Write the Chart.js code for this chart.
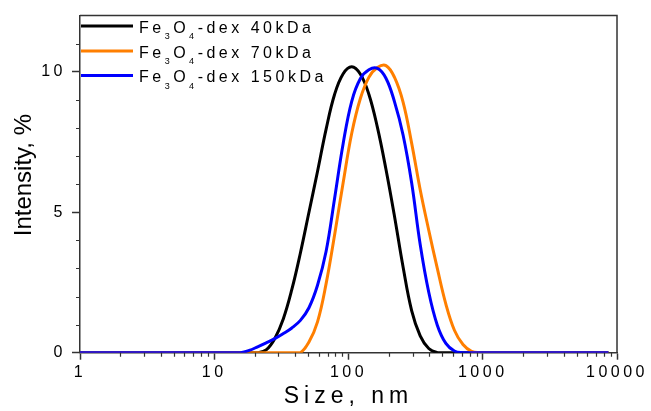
<!DOCTYPE html>
<html>
<head>
<meta charset="utf-8">
<script src="https://cdn.jsdelivr.net/npm/chart.js@4.4.1/dist/chart.umd.min.js"></script>
<style>
  html, body { margin: 0; padding: 0; background: #fff; }
</style>
</head>
<body>
<canvas id="size-chart" width="651" height="411"></canvas>
<script>
// DLS size bins (nm)
var sizes = [0.4, 0.4632, 0.5365, 0.6213, 0.7195, 0.8332, 0.9649, 1.117, 1.294, 1.499,
  1.736, 2.01, 2.328, 2.696, 3.122, 3.615, 4.187, 4.849, 5.615, 6.503,
  7.531, 8.721, 10.1, 11.7, 13.54, 15.69, 18.17, 21.04, 24.36, 28.21,
  32.67, 37.84, 43.82, 50.75, 58.77, 68.06, 78.82, 91.28, 105.7, 122.4,
  141.8, 164.2, 190.1, 220.2, 255, 295.3, 342, 396.1, 458.7, 531.2,
  615.1, 712.4, 825, 955.4, 1106, 1281, 1484, 1718, 1990, 2305,
  2669, 3091, 3580, 4145, 4801, 5560, 6439, 7456, 8635];

// intensity, %
var dex40 = [0, 0, 0, 0, 0, 0, 0, 0, 0, 0,
  0, 0, 0, 0, 0, 0, 0, 0, 0, 0,
  0, 0, 0, 0, 0, 0, 0, 0, 0.1, 0.5,
  1.2, 2.25, 3.55, 5.0, 6.45, 7.95, 9.2, 9.93, 10.18, 9.92,
  9.2, 8.02, 6.53, 4.85, 3.05, 1.5, 0.6, 0.15, 0.01, 0,
  0, 0, 0, 0, 0, 0, 0, 0, 0, 0,
  0, 0, 0, 0, 0, 0, 0, 0, 0];
var dex70 = [0, 0, 0, 0, 0, 0, 0, 0, 0, 0,
  0, 0, 0, 0, 0, 0, 0, 0, 0, 0,
  0, 0, 0, 0, 0, 0, 0, 0, 0, 0,
  0, 0, 0, 0.38, 1.1, 2.45, 4.2, 6.06, 7.81, 9.04,
  9.8, 10.15, 10.22, 9.8, 8.92, 7.46, 5.8, 4.36, 3.0, 1.73,
  0.8, 0.29, 0.05, 0, 0, 0, 0, 0, 0, 0,
  0, 0, 0, 0, 0, 0, 0, 0, 0];
var dex150 = [0, 0, 0, 0, 0, 0, 0, 0, 0, 0,
  0, 0, 0, 0, 0, 0, 0, 0, 0, 0,
  0, 0, 0, 0, 0, 0, 0.08, 0.21, 0.35, 0.5,
  0.68, 0.88, 1.15, 1.6, 2.4, 3.6, 5.5, 7.45, 8.95, 9.75,
  10.07, 10.12, 9.77, 8.93, 7.75, 6.05, 3.85, 2.15, 0.98, 0.33,
  0.06, 0, 0, 0, 0, 0, 0, 0, 0, 0,
  0, 0, 0, 0, 0, 0, 0, 0, 0];

var seriesNames = ["Fe₃O₄-dex 40kDa", "Fe₃O₄-dex 70kDa", "Fe₃O₄-dex 150kDa"];
var seriesColors = ["#000000", "#ff7f00", "#0000ff"];

var xLabels = [1, 10, 100, 1000, 10000];
var yLabels = [0, 5, 10];

var FONT = "'Liberation Sans', Arial, sans-serif";
var AXIS = "#333333";

function points(vals) {
  var pts = [];
  for (let i = 0; i < sizes.length; i++) {
    pts.push({ x: sizes[i], y: vals[i] });
  }
  return pts;
}

function isDecade(v) {
  return xLabels.indexOf(Math.round(v)) >= 0 && Math.abs(v - Math.round(v)) < 1e-6;
}

var xTicks = [];
for (let e = 0; e < 4; e++) {
  for (let m = 1; m < 10; m++) xTicks.push(m * Math.pow(10, e));
}
xTicks.push(10000);

var extras = {
  id: 'extras',
  beforeUpdate: function (chart) {
    chart.ctx.letterSpacing = '3.5px';
  },
  beforeDraw: function (chart) {
    chart.ctx.letterSpacing = '3.5px';
    var ys = chart.scales.y, xs = chart.scales.x;
    if (!ys._patched) {
      var yd = ys.drawTitle, xd = xs.drawTitle;
      ys.drawTitle = function () {
        var c = this.ctx;
        c.save(); c.letterSpacing = '0px'; c.translate(0, -9);
        yd.apply(this, arguments);
        c.restore();
      };
      xs.drawTitle = function () {
        var c = this.ctx;
        c.save(); c.letterSpacing = '5px';
        xd.apply(this, arguments);
        c.restore();
      };
      ys._patched = true;
    }
  },
  afterDraw: function (chart) {
    var ctx = chart.ctx, a = chart.chartArea;
    var xs = chart.scales.x, ys = chart.scales.y;
    ctx.save();
    ctx.letterSpacing = '0px';
    ctx.strokeStyle = AXIS;
    ctx.lineWidth = 1.5;
    // top and right frame
    ctx.beginPath();
    ctx.moveTo(a.left, a.top); ctx.lineTo(a.right, a.top); ctx.lineTo(a.right, a.bottom);
    ctx.stroke();
    // minor ticks
    ctx.lineWidth = 1.2;
    ctx.beginPath();
    xTicks.forEach(function (v) {
      if (isDecade(v)) return;
      var px = Math.round(xs.getPixelForValue(v)) + 0.5;
      ctx.moveTo(px, a.bottom); ctx.lineTo(px, a.bottom + 4);
    });
    for (let v = 1; v < 12; v++) {
      if (yLabels.indexOf(v) >= 0) continue;
      var py = Math.round(ys.getPixelForValue(v)) + 0.5;
      ctx.moveTo(a.left - 4, py); ctx.lineTo(a.left, py);
    }
    ctx.stroke();

    // legend
    var rowY = [26, 51, 75.5];
    chart.data.datasets.forEach(function (ds, i) {
      var y = rowY[i];
      ctx.strokeStyle = ds.borderColor;
      ctx.lineWidth = 3;
      ctx.beginPath();
      ctx.moveTo(a.left + 1, y); ctx.lineTo(a.left + 53, y);
      ctx.stroke();
      ctx.fillStyle = '#000';
      ctx.textBaseline = 'alphabetic';
      ctx.letterSpacing = '3.5px';
      var x = a.left + 59;
      for (const ch of ds.label) {
        var sub = '₀₁₂₃₄₅₆₇₈₉'.indexOf(ch);
        if (sub >= 0) {
          ctx.font = '9px ' + FONT;
          ctx.fillText(String(sub), x, y + 13);
          x += ctx.measureText(String(sub)).width;
        } else {
          ctx.font = '16px ' + FONT;
          ctx.fillText(ch, x, y + 6.5);
          x += ctx.measureText(ch).width;
        }
      }
    });
    ctx.restore();
  }
};

new Chart(document.getElementById("size-chart"), {
  type: 'line',
  data: {
    datasets: [
      { label: seriesNames[0], data: points(dex40), borderColor: seriesColors[0], order: 3 },
      { label: seriesNames[1], data: points(dex70), borderColor: seriesColors[1], order: 2 },
      { label: seriesNames[2], data: points(dex150), borderColor: seriesColors[2], order: 1 }
    ]
  },
  options: {
    responsive: false,
    animation: false,
    events: [],
    layout: { padding: { top: 12, right: 31, left: 0, bottom: 0 } },
    elements: {
      point: { radius: 0 },
      line: { borderWidth: 3, tension: 0.4, fill: false }
    },
    plugins: {
      legend: { display: false },
      tooltip: { enabled: false }
    },
    scales: {
      x: {
        type: 'logarithmic',
        min: 1,
        max: 10000,
        afterBuildTicks: function (scale) {
          scale.ticks = xTicks.map(function (v) { return { value: v }; });
        },
        afterFit: function (scale) { scale.height = 58.3; },
        grid: {
          drawOnChartArea: false,
          tickLength: 7,
          tickWidth: 1.5,
          tickColor: function (c) { return c.tick && isDecade(c.tick.value) ? AXIS : 'rgba(0,0,0,0)'; }
        },
        border: { color: AXIS, width: 1.5 },
        ticks: {
          autoSkip: false,
          maxRotation: 0,
          padding: 3,
          color: '#000',
          font: { family: FONT, size: 16 },
          callback: function (v) { return isDecade(v) ? String(Math.round(v)) : ''; }
        },
        title: {
          display: true,
          text: 'Size, nm',
          color: '#000',
          font: { family: FONT, size: 23 },
          padding: { top: 0, bottom: 1 }
        }
      },
      y: {
        min: 0,
        max: 12,
        afterFit: function (scale) { scale.width = 80; },
        grid: {
          drawOnChartArea: false,
          tickLength: 8,
          tickWidth: 1.5,
          tickColor: function (c) { return c.tick && yLabels.indexOf(c.tick.value) >= 0 ? AXIS : 'rgba(0,0,0,0)'; }
        },
        border: { color: AXIS, width: 1.5 },
        ticks: {
          stepSize: 1,
          padding: 6,
          color: '#000',
          font: { family: FONT, size: 16 },
          callback: function (v) { return yLabels.indexOf(v) >= 0 ? String(v) : ''; }
        },
        title: {
          display: true,
          text: 'Intensity, %',
          color: '#000',
          font: { family: FONT, size: 24 },
          padding: { top: 10, bottom: 0 }
        }
      }
    }
  },
  plugins: [extras]
});
</script>
</body>
</html>
